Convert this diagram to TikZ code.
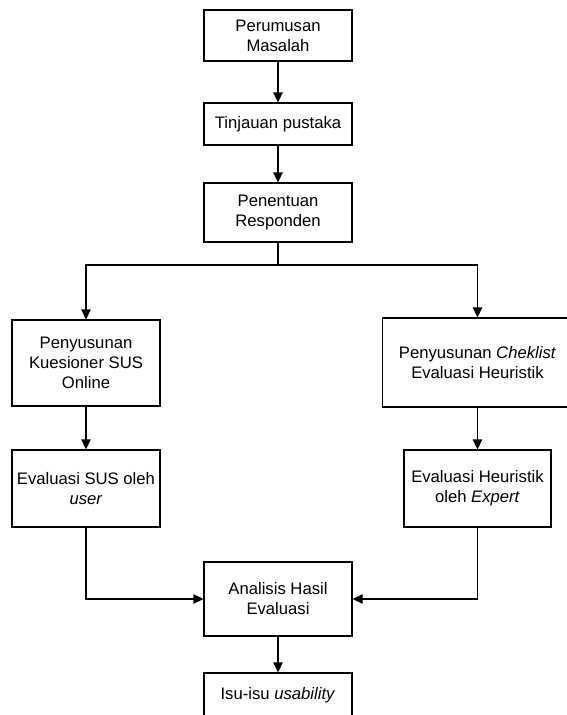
\documentclass[tikz,border=0pt]{standalone}
\usepackage{fontspec}
\setmainfont{Liberation Sans}
\usetikzlibrary{arrows.meta}
\tikzset{
  box/.style={draw,line width=0.8pt,align=center,inner sep=2pt,font=\fontsize{12.5}{15}\selectfont},
  col/.style={box,minimum width=111pt},
}
\begin{document}
\begin{tikzpicture}[x=0.75pt,y=-0.75pt,>={Triangle[width=7pt,length=7.5pt]},line width=0.8pt]
  \useasboundingbox (0,0) rectangle (567,715);
  \clip (0,0) rectangle (567,715);
  % middle column
  \node[col,minimum height=38.25pt] (rumus) at (278,35.5) {Perumusan\\Masalah};
  \node[col,minimum height=31.5pt] (tinjau) at (278,124) {Tinjauan pustaka};
  \node[col,minimum height=44.25pt] (resp) at (278,212.5) {Penentuan\\Responden};
  \coordinate (split) at (278,265);
  % left branch
  \node[col,minimum height=64.5pt] (kues) at (86,363) {Penyusunan\\Kuesioner SUS\\Online};
  \node[col,minimum height=57.75pt] (sus) at (86,488.5) {Evaluasi SUS oleh\\\textit{user}};
  % right branch
  \node[box,minimum width=142.5pt,minimum height=66.75pt] (cek) at (477.5,362.5) {Penyusunan \textit{Cheklist}\\Evaluasi Heuristik};
  \node[box,minimum width=110.25pt,minimum height=57.75pt] (heur) at (477.5,488.5) {Evaluasi Heuristik\\oleh \textit{Expert}};
  % bottom
  \node[col,minimum height=55.5pt] (anal) at (278,599) {Analisis Hasil\\Evaluasi};
  \node[col,minimum height=33pt] (isu) at (278,695) {Isu-isu \textit{usability}};
  % connectors
  \draw[->] (rumus) -- (tinjau);
  \draw[->] (tinjau) -- (resp);
  \draw (resp) -- (split);
  \draw[->] (split) -| (kues);
  \draw[->] (split) -| (cek);
  \draw[->] (kues) -- (sus);
  \draw[->] (cek) -- (heur);
  \draw[->] (sus) |- (anal);
  \draw[->] (heur) |- (anal);
  \draw[->] (anal) -- (isu);
\end{tikzpicture}
\end{document}
